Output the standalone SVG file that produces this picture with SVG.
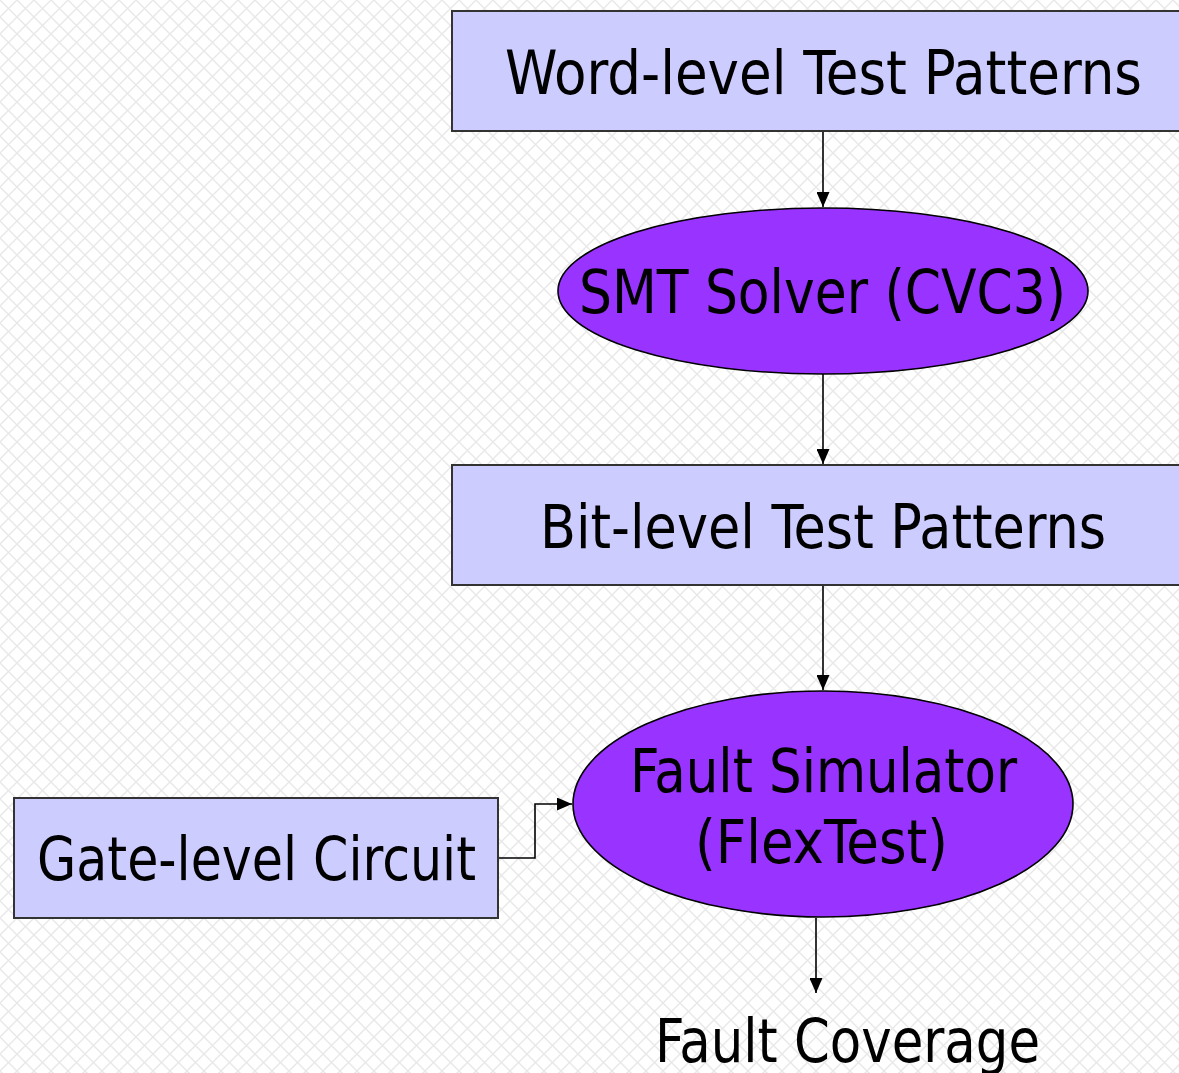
<svg xmlns="http://www.w3.org/2000/svg" width="1179" height="1073" viewBox="0 0 1179 1073">
  <defs>
    <!-- light diamond lattice backdrop -->
    <pattern id="lattice" width="17" height="17" patternUnits="userSpaceOnUse">
      <rect width="17" height="17" fill="#ffffff"/>
      <path d="M0,0 L17,17 M17,0 L0,17" stroke="#e8e8e8" stroke-width="1.4"/>
    </pattern>
    <marker id="arrow" viewBox="0 0 15 13" refX="15" refY="6.5" markerWidth="15" markerHeight="13" markerUnits="userSpaceOnUse" orient="auto">
      <path d="M0,0 L15,6.5 L0,13 Z" fill="#000"/>
    </marker>
    <style>
      .box { fill: #ccccff; stroke: #333333; stroke-width: 2; }
      .oval { fill: #9933ff; stroke: #000000; stroke-width: 1.6; }
      .label { font-family: "DejaVu Sans Condensed", "DejaVu Sans", "Liberation Sans", sans-serif; font-size: 60px; fill: #000; }
      .wire { fill: none; stroke: #000; stroke-width: 1.6; marker-end: url(#arrow); }
    </style>
  </defs>

  <rect x="0" y="0" width="1179" height="1073" fill="url(#lattice)"/>

  <g id="connectors">
    <path class="wire" d="M823,131 L823,207"/>
    <path class="wire" d="M823,374 L823,464"/>
    <path class="wire" d="M823,585 L823,690"/>
    <path class="wire" d="M498,858 L535,858 L535,804 L572,804"/>
    <path class="wire" d="M816,918 L816,993"/>
  </g>

  <g id="word-patterns">
    <rect class="box" x="452" y="11" width="740" height="120"/>
    <text class="label" x="505" y="94" textLength="637" lengthAdjust="spacingAndGlyphs">Word-level Test Patterns</text>
  </g>

  <g id="smt-solver">
    <ellipse class="oval" cx="823" cy="291" rx="265" ry="83"/>
    <text class="label" x="579" y="313" textLength="487" lengthAdjust="spacingAndGlyphs">SMT Solver (CVC3)</text>
  </g>

  <g id="bit-patterns">
    <rect class="box" x="452" y="465" width="740" height="120"/>
    <text class="label" x="540" y="548" textLength="566" lengthAdjust="spacingAndGlyphs">Bit-level Test Patterns</text>
  </g>

  <g id="fault-simulator">
    <ellipse class="oval" cx="823" cy="804" rx="250" ry="113"/>
    <text class="label" x="630" y="792" textLength="387" lengthAdjust="spacingAndGlyphs">Fault Simulator</text>
    <text class="label" x="695" y="863" textLength="253" lengthAdjust="spacingAndGlyphs">(FlexTest)</text>
  </g>

  <g id="gate-circuit">
    <rect class="box" x="14" y="798" width="484" height="120"/>
    <text class="label" x="37" y="880" textLength="439" lengthAdjust="spacingAndGlyphs">Gate-level Circuit</text>
  </g>

  <g id="fault-coverage">
    <text class="label" x="655" y="1062" textLength="385" lengthAdjust="spacingAndGlyphs">Fault Coverage</text>
  </g>
</svg>
